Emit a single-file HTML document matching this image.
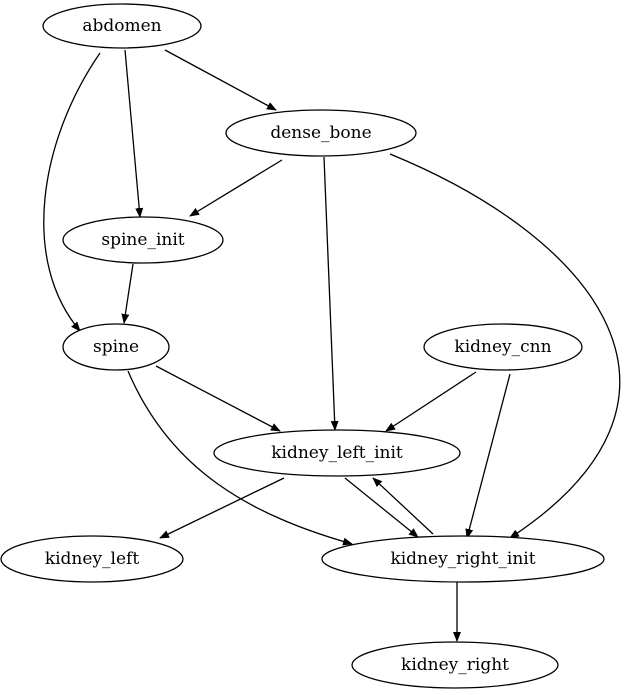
<!DOCTYPE html>
<html><head><meta charset="utf-8"><style>
html,body{margin:0;padding:0;background:#fff;}
svg{display:block;}
text{font-family:"DejaVu Serif","Liberation Serif",serif;font-size:17px;fill:#000;text-anchor:middle;dominant-baseline:central;}
ellipse{fill:#fff;stroke:#000;stroke-width:1.3;}
path{fill:none;stroke:#000;stroke-width:1.3;}
</style></head><body>
<svg width="640" height="695" viewBox="0 0 640 695" xmlns="http://www.w3.org/2000/svg">
<defs><marker id="a" markerWidth="10" markerHeight="8" refX="9" refY="4" orient="auto" markerUnits="userSpaceOnUse"><polygon points="0,0 10,4 0,8" fill="#000"/></marker></defs>
<g marker-end="url(#a)">
<path d="M165,50 L276,110"/>
<path d="M125,50 L140,217"/>
<path d="M100,53 C40,140 20,260 80,331"/>
<path d="M282,160 L190,216"/>
<path d="M324,157 L335,430"/>
<path d="M390,154 C600,240 720,400 510,538"/>
<path d="M133,264 L124,323"/>
<path d="M156,366 L280,431"/>
<path d="M128,371 C170,470 250,515 352,544"/>
<path d="M476,372 L386,431"/>
<path d="M510,374 L467,538"/>
<path d="M284,478 L160,538"/>
<path d="M345,478 L418,537"/>
<path d="M433,534 L373,478"/>
<path d="M457,582 L457,641"/>
</g>
<ellipse cx="122" cy="26" rx="79" ry="22"/><text x="122" y="26">abdomen</text>
<ellipse cx="321" cy="133" rx="95" ry="23"/><text x="321" y="133">dense_bone</text>
<ellipse cx="143" cy="240" rx="80" ry="23"/><text x="143" y="240">spine_init</text>
<ellipse cx="116" cy="347" rx="53" ry="23"/><text x="116" y="347">spine</text>
<ellipse cx="503" cy="347" rx="79" ry="23"/><text x="503" y="347">kidney_cnn</text>
<ellipse cx="337" cy="453" rx="123" ry="23"/><text x="337" y="453">kidney_left_init</text>
<ellipse cx="92" cy="559" rx="91" ry="23"/><text x="92" y="559">kidney_left</text>
<ellipse cx="463" cy="559" rx="141" ry="23"/><text x="463" y="559">kidney_right_init</text>
<ellipse cx="455" cy="665" rx="103" ry="23"/><text x="455" y="665">kidney_right</text>
</svg>
</body></html>
